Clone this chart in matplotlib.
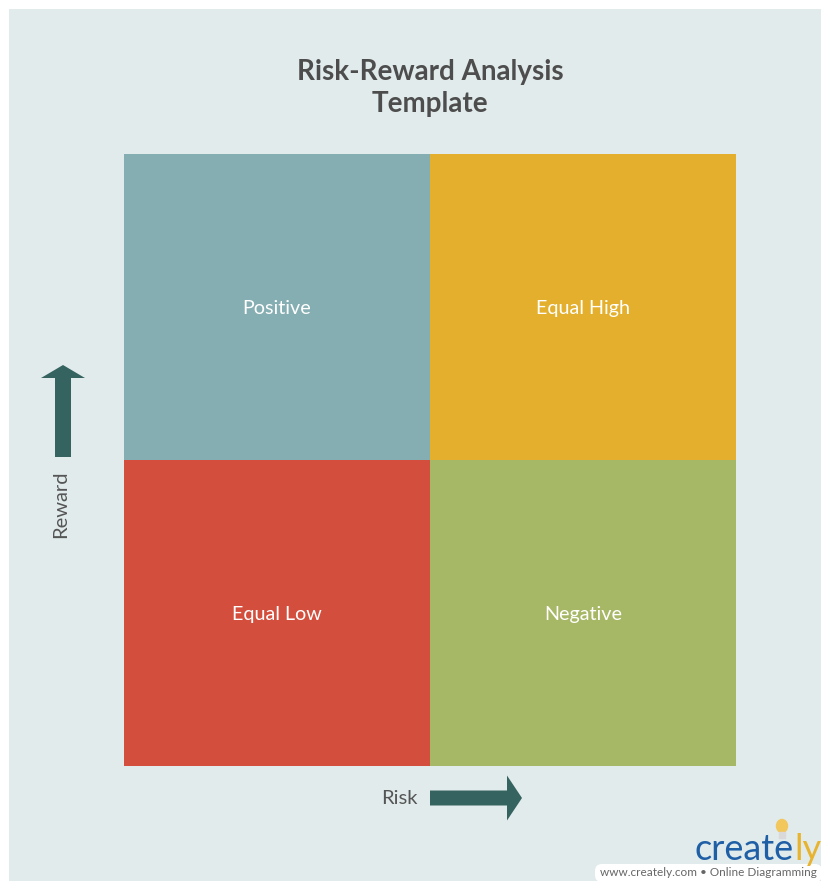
import matplotlib
matplotlib.use("Agg")
import matplotlib.pyplot as plt
from matplotlib.patches import FancyBboxPatch, Rectangle, FancyArrow, Ellipse

plt.rcParams['font.family'] = ['Lato', 'DejaVu Sans']

# Data
quadrant_labels = ["Positive", "Equal High", "Equal Low", "Negative"]
risk_level = [0, 1, 0, 1]      # column (0 = low risk, 1 = high risk)
reward_level = [1, 1, 0, 0]    # row (0 = low reward, 1 = high reward)
quadrant_colors = ["#85AEB3", "#E3AF2C", "#D34E3C", "#A6B865"]
title = "Risk-Reward Analysis\nTemplate"
x_label = "Risk"
y_label = "Reward"

W, H = 830, 890
fig = plt.figure(figsize=(W / 100, H / 100), dpi=100)
fig.patch.set_facecolor("white")

# background canvas in pixel coords
bg = fig.add_axes([0, 0, 1, 1])
bg.set_xlim(0, W)
bg.set_ylim(H, 0)
bg.axis("off")
bg.add_patch(Rectangle((9, 9), 812, 872, facecolor="#E1EBEC", edgecolor="none"))

bg.text(430, 88, title, ha="center", va="center", fontsize=20, fontweight="bold",
        color="#4D4D4D", linespacing=1.32)

arrow_c = "#356360"
# up arrow (Reward)
bg.add_patch(FancyArrow(63, 457, 0, -92, width=16, head_width=44, head_length=13,
                        length_includes_head=True, color=arrow_c, lw=0))
bg.text(61, 504, y_label, rotation=90, ha="center", va="center", fontsize=14.5, color="#555555")
# right arrow (Risk)
bg.add_patch(FancyArrow(430, 798, 92, 0, width=15, head_width=45, head_length=15,
                        length_includes_head=True, color=arrow_c, lw=0))
bg.text(399, 799, x_label, ha="center", va="center", fontsize=14.5, color="#555555")

# logo
bg.add_patch(FancyBboxPatch((595, 864), 227, 18, boxstyle="round,pad=0,rounding_size=7",
                            facecolor="white", edgecolor="none"))
bg.text(817, 873, "www.creately.com \u2022 Online Diagramming", ha="right", va="center",
        fontsize=8.5, color="#666666")
bg.text(794, 849, "create", ha="right", va="center", fontsize=26, color="#1F5FA6")
bg.text(794, 849, "ly", ha="left", va="center", fontsize=26, color="#E8B32F")
bg.add_patch(Ellipse((782, 826), 11, 13, color="#F2C75C"))
bg.add_patch(Rectangle((779, 832), 6, 6, color="#D9D9D9"))

# quadrant grid
ax = fig.add_axes([124 / W, 1 - 766 / H, 612 / W, 612 / H])
ax.set_xlim(0, 2)
ax.set_ylim(0, 2)
ax.axis("off")
ax.bar(risk_level, [1] * 4, width=1, bottom=reward_level, align="edge",
       color=quadrant_colors, edgecolor="none")
for lab, rx, ry in zip(quadrant_labels, risk_level, reward_level):
    ax.text(rx + 0.5, ry + 0.495, lab, ha="center", va="center", fontsize=14.2, color="white")

fig.savefig("out.png", dpi=100, facecolor=fig.get_facecolor())
